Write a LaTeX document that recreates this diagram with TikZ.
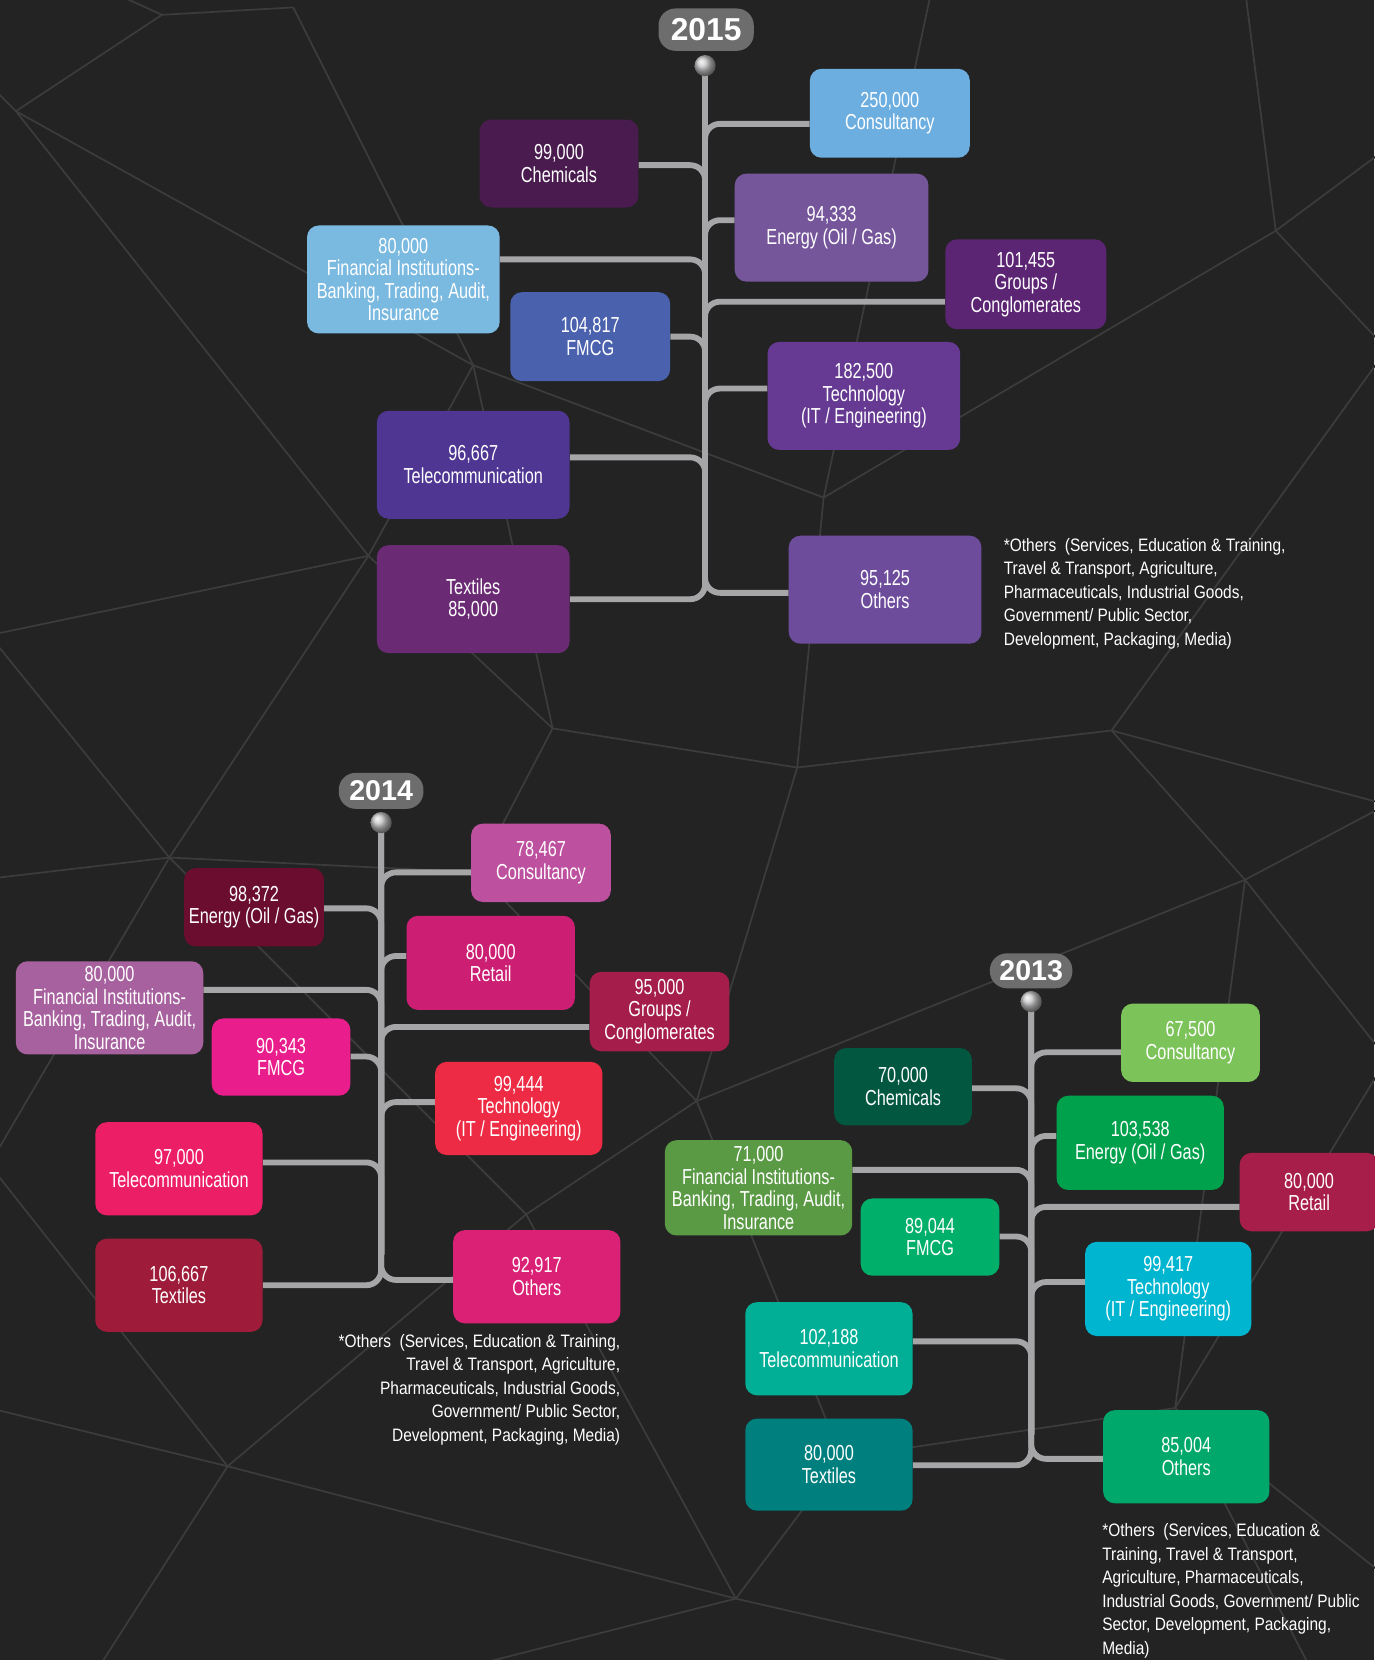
\documentclass[tikz,border=0pt]{standalone}
\usepackage{fontspec}
\setmainfont{Liberation Sans}[FakeStretch=0.75]
\newfontfamily\notefont{Liberation Sans}[FakeStretch=0.86]
\newfontfamily\yearfont{Liberation Sans}
\usetikzlibrary{calc}
\pgfdeclarelayer{meshlayer}
\pgfdeclarelayer{connlayer}
\pgfsetlayers{meshlayer,connlayer,main}

\definecolor{bgcol}{HTML}{232323}
\definecolor{meshcol}{HTML}{3C3C3C}
\definecolor{conncol}{HTML}{A6A6A8}
\definecolor{trunkcol}{HTML}{939395}
\definecolor{pillcol}{HTML}{6D6D6D}
\definecolor{knobcol}{HTML}{C4C4C6}
% 2015
\definecolor{consA}{HTML}{6CAEE0}
\definecolor{chemA}{HTML}{4A1B4F}
\definecolor{enerA}{HTML}{76569B}
\definecolor{finA}{HTML}{7AB9E0}
\definecolor{grpA}{HTML}{5C2574}
\definecolor{fmcgA}{HTML}{4A62AD}
\definecolor{techA}{HTML}{663A93}
\definecolor{telA}{HTML}{4E3692}
\definecolor{texA}{HTML}{6A2A74}
\definecolor{othA}{HTML}{6E4C9C}
% 2014
\definecolor{consB}{HTML}{BD51A0}
\definecolor{enerB}{HTML}{6A0D2E}
\definecolor{retB}{HTML}{CC1F73}
\definecolor{finB}{HTML}{A7619E}
\definecolor{grpB}{HTML}{A51D4B}
\definecolor{fmcgB}{HTML}{E91E8C}
\definecolor{techB}{HTML}{EE2B45}
\definecolor{telB}{HTML}{EC1E66}
\definecolor{texB}{HTML}{9E1C3A}
\definecolor{othB}{HTML}{DA2175}
% 2013
\definecolor{consC}{HTML}{7CC35A}
\definecolor{chemC}{HTML}{01573F}
\definecolor{enerC}{HTML}{00A14C}
\definecolor{finC}{HTML}{5A9A45}
\definecolor{retC}{HTML}{A81E4B}
\definecolor{fmcgC}{HTML}{00B06A}
\definecolor{techC}{HTML}{00B5D0}
\definecolor{telC}{HTML}{00AF96}
\definecolor{texC}{HTML}{007F7F}
\definecolor{othC}{HTML}{00A86C}

\tikzset{
  ibox/.style={rounded corners=11pt, text=white, align=center, inner sep=0pt,
    font=\fontsize{20.5}{21.3}\selectfont},
  conn/.style={draw=conncol, line width=5.5pt, rounded corners=14pt},
  trunk/.style={draw=trunkcol, line width=5.5pt},
  pill/.style={fill=pillcol, rounded corners=16pt, text=white, inner sep=0pt,
    font=\yearfont\bfseries\fontsize{27}{27}\selectfont},
  knob/.style={circle, minimum size=20pt, inner sep=0pt, ball color=knobcol},
  note/.style={text=white, inner sep=0pt,
    font=\notefont\fontsize{17}{22.25}\selectfont},
  mesh/.style={draw=meshcol, line width=1.6pt},
}

% name, x1, y1, x2, y2, colour, text
\newcommand{\ibox}[7]{\node[ibox, fill=#6, minimum width={(#4-#2)*1pt},
  minimum height={(#5-#3)*1pt}] (#1) at ({(#2+#4)/2},{(#3+#5)/2}) {#7};}

\begin{document}
\begin{tikzpicture}[x=1pt,y=-1pt]
\useasboundingbox (0,0) rectangle (1298,1568);

% ---------- background and mesh ----------
\begin{pgfonlayer}{meshlayer}
\fill[bgcol] (0,0) rectangle (1298,1568);
\coordinate (M1) at (15,105);   \coordinate (M2) at (153,14);
\coordinate (M3) at (277,7);    \coordinate (M4) at (447,345);
\coordinate (M5) at (348,525);  \coordinate (M6) at (522,688);
\coordinate (M7) at (778,470);  \coordinate (M8) at (1205,218);
\coordinate (M9) at (1176,-10); \coordinate (M10) at (753,725);
\coordinate (M11) at (1310,140);\coordinate (M12) at (1310,330);
\coordinate (M13) at (880,-10); \coordinate (M14) at (-10,600);
\coordinate (M15) at (160,810); \coordinate (M16) at (-10,830);
\coordinate (M17) at (451,824); \coordinate (M18) at (658,1040);
\coordinate (M19) at (497,1147);\coordinate (M20) at (215,1385);
\coordinate (M21) at (695,1510);\coordinate (M22) at (1176,831);
\coordinate (M23) at (1110,1330);\coordinate (M24) at (1310,1490);
\coordinate (M25) at (795,1377);\coordinate (M26) at (-10,1330);
\coordinate (M27) at (1310,760);\coordinate (M28) at (1310,1000);
\coordinate (M29) at (420,1580);\coordinate (M30) at (1000,1580);
\coordinate (M31) at (90,1580); \coordinate (M32) at (1240,1580);
\coordinate (M33) at (1050,690);\coordinate (M35) at (-10,1100);
\coordinate (M36) at (-10,80);  \coordinate (M37) at (100,-10);
\foreach \a/\b in {M36/M1,M37/M2,M1/M2,M2/M3,M3/M4,M1/M4,M1/M5,M4/M5,M4/M6,
  M5/M6,M4/M7,M6/M10,M7/M10,M7/M8,M8/M9,M8/M11,M8/M12,M7/M13,M5/M14,M14/M15,
  M5/M15,M6/M17,M15/M17,M15/M16,M17/M18,M18/M19,M19/M15,M19/M20,M20/M26,
  M20/M31,M20/M21,M19/M21,M21/M29,M21/M30,M18/M25,M21/M25,M25/M23,M23/M24,
  M23/M32,M22/M18,M22/M27,M22/M23,M10/M33,M33/M27,M33/M22,M10/M18,M12/M33,
  M35/M15,M35/M20,M23/M28,M22/M28}
  \draw[mesh] (\a) -- (\b);
\end{pgfonlayer}

% ================= 2015 =================
\node[pill, minimum width=90pt, minimum height=40pt,
  font=\yearfont\bfseries\fontsize{30}{30}\selectfont] (yA) at (667,28) {2015};
\coordinate (TA) at (666,62);
\coordinate (BA) at (666,540);

\ibox{consA}{765}{65}{916}{149}{consA}{250,000\\Consultancy}
\ibox{chemA}{453}{113}{603}{196}{chemA}{99,000\\Chemicals}
\ibox{enerA}{694}{164}{877}{266}{enerA}{94,333\\Energy (Oil / Gas)}
\ibox{finA}{290}{213}{472}{315}{finA}{80,000\\Financial Institutions-\\Banking, Trading, Audit,\\Insurance}
\ibox{grpA}{893}{226}{1045}{311}{grpA}{101,455\\Groups /\\Conglomerates}
\ibox{fmcgA}{482}{276}{633}{360}{fmcgA}{104,817\\FMCG}
\ibox{techA}{725}{323}{907}{425}{techA}{182,500\\Technology\\(IT / Engineering)}
\ibox{telA}{356}{388}{538}{490}{telA}{96,667\\Telecommunication}
\ibox{texA}{356}{515}{538}{617}{texA}{Textiles\\85,000}
\ibox{othA}{745}{506}{927}{608}{othA}{95,125\\Others}

\node[note, anchor=north west, align=left] (noteA) at (948,508)
  {*Others\ \ (Services, Education \& Training,\\Travel \& Transport, Agriculture,\\Pharmaceuticals, Industrial Goods,\\Government/ Public Sector,\\Development, Packaging, Media)};

\begin{pgfonlayer}{connlayer}
\draw[trunk] (TA) -- (BA);
\draw[conn] (consA.west |- 0,117) -| (BA);
\draw[conn] (chemA.east |- 0,156) -| (BA);
\draw[conn] (enerA.west |- 0,208) -| (BA);
\draw[conn] (finA.east |- 0,245) -| (BA);
\draw[conn] (grpA.west |- 0,285) -| (BA);
\draw[conn] (fmcgA.east |- 0,318) -| (BA);
\draw[conn] (techA.west |- 0,367) -| (BA);
\draw[conn] (telA.east |- 0,432) -| (BA);
\draw[conn] (texA.east |- 0,566) -| (TA);
\draw[conn] (othA.west |- 0,560) -| (TA);
\end{pgfonlayer}
\node[knob] (kA) at (TA) {};

% ================= 2014 =================
\node[pill, minimum width=80pt, minimum height=34pt] (yB) at (360,747) {2014};
\coordinate (TB) at (360,777);
\coordinate (BB) at (360,1185);

\ibox{consB}{445}{778}{577}{852}{consB}{78,467\\Consultancy}
\ibox{enerB}{174}{820}{306}{894}{enerB}{98,372\\Energy (Oil / Gas)}
\ibox{retB}{384}{865}{543}{954}{retB}{80,000\\Retail}
\ibox{finB}{15}{908}{192}{996}{finB}{80,000\\Financial Institutions-\\Banking, Trading, Audit,\\Insurance}
\ibox{grpB}{557}{918}{689}{993}{grpB}{95,000\\Groups /\\Conglomerates}
\ibox{fmcgB}{200}{962}{331}{1035}{fmcgB}{90,343\\FMCG}
\ibox{techB}{411}{1003}{569}{1091}{techB}{99,444\\Technology\\(IT / Engineering)}
\ibox{telB}{90}{1060}{248}{1148}{telB}{97,000\\Telecommunication}
\ibox{texB}{90}{1170}{248}{1258}{texB}{106,667\\Textiles}
\ibox{othB}{428}{1162}{586}{1250}{othB}{92,917\\Others}

\node[note, anchor=north east, align=right] (noteB) at (586,1260)
  {*Others\ \ (Services, Education \& Training,\\Travel \& Transport, Agriculture,\\Pharmaceuticals, Industrial Goods,\\Government/ Public Sector,\\Development, Packaging, Media)};

\begin{pgfonlayer}{connlayer}
\draw[trunk] (TB) -- (BB);
\draw[conn] (consB.west |- 0,824) -| (BB);
\draw[conn] (enerB.east |- 0,858) -| (BB);
\draw[conn] (retB.west |- 0,903) -| (BB);
\draw[conn] (finB.east |- 0,935) -| (BB);
\draw[conn] (grpB.west |- 0,970) -| (BB);
\draw[conn] (fmcgB.east |- 0,998) -| (BB);
\draw[conn] (techB.west |- 0,1041) -| (BB);
\draw[conn] (telB.east |- 0,1098) -| (BB);
\draw[conn] (texB.east |- 0,1214) -| (TB);
\draw[conn] (othB.west |- 0,1209) -| (TB);
\end{pgfonlayer}
\node[knob] (kB) at (TB) {};

% ================= 2013 =================
\node[pill, minimum width=78pt, minimum height=33pt] (yC) at (974,917) {2013};
\coordinate (TC) at (974,946);
\coordinate (BC) at (974,1355);

\ibox{consC}{1059}{948}{1190}{1022}{consC}{67,500\\Consultancy}
\ibox{chemC}{788}{990}{918}{1063}{chemC}{70,000\\Chemicals}
\ibox{enerC}{998}{1035}{1156}{1124}{enerC}{103,538\\Energy (Oil / Gas)}
\ibox{finC}{628}{1077}{805}{1167}{finC}{71,000\\Financial Institutions-\\Banking, Trading, Audit,\\Insurance}
\ibox{retC}{1171}{1089}{1302}{1163}{retC}{80,000\\Retail}
\ibox{fmcgC}{813}{1132}{944}{1205}{fmcgC}{89,044\\FMCG}
\ibox{techC}{1025}{1173}{1182}{1262}{techC}{99,417\\Technology\\(IT / Engineering)}
\ibox{telC}{704}{1230}{862}{1318}{telC}{102,188\\Telecommunication}
\ibox{texC}{704}{1340}{862}{1427}{texC}{80,000\\Textiles}
\ibox{othC}{1042}{1332}{1199}{1420}{othC}{85,004\\Others}

\node[note, anchor=north west, align=left] (noteC) at (1041,1439)
  {*Others\ \ (Services, Education \&\\Training, Travel \& Transport,\\Agriculture, Pharmaceuticals,\\Industrial Goods, Government/ Public\\Sector, Development, Packaging,\\Media)};

\begin{pgfonlayer}{connlayer}
\draw[trunk] (TC) -- (BC);
\draw[conn] (consC.west |- 0,994) -| (BC);
\draw[conn] (chemC.east |- 0,1028) -| (BC);
\draw[conn] (enerC.west |- 0,1073) -| (BC);
\draw[conn] (finC.east |- 0,1105) -| (BC);
\draw[conn] (retC.west |- 0,1140) -| (BC);
\draw[conn] (fmcgC.east |- 0,1168) -| (BC);
\draw[conn] (techC.west |- 0,1211) -| (BC);
\draw[conn] (telC.east |- 0,1267) -| (BC);
\draw[conn] (texC.east |- 0,1384) -| (TC);
\draw[conn] (othC.west |- 0,1378) -| (TC);
\end{pgfonlayer}
\node[knob] (kC) at (TC) {};
\end{tikzpicture}
\end{document}
